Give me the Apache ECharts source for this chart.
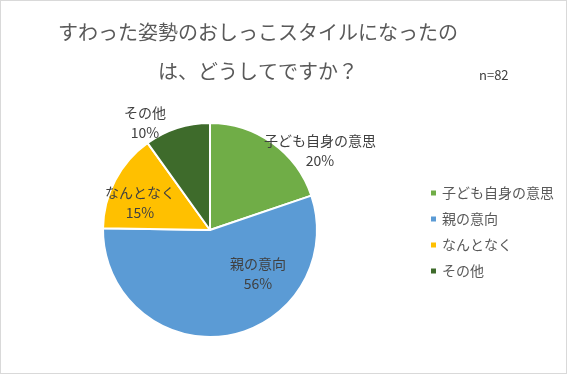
<!DOCTYPE html>
<html>
<head>
<meta charset="utf-8">
<script src="https://cdn.jsdelivr.net/npm/echarts@6/dist/echarts.min.js"></script>
<style>
html,body{margin:0;padding:0;background:#fff;}
#c{width:565px;height:372px;border:1px solid #d9d9d9;}
</style>
</head>
<body>
<div id="c"></div>
<script>
const categories = ['子ども自身の意思', '親の意向', 'なんとなく', 'その他'];
const percents = [20, 56, 15, 10];
const colors = ['#70AD47', '#5B9BD5', '#FFC000', '#3E6B2B'];
const titleLines = ['すわった姿勢のおしっこスタイルになったの', 'は、どうしてですか？'];
const sampleText = 'n=82';

const labelOffsets = [[110, -79], [48, 44], [-70, -27], [-65, -107]];
const font = '"Noto Sans CJK JP", sans-serif';

const chart = echarts.init(document.getElementById('c'));
chart.setOption({
  animation: false,
  title: [
    { text: titleLines.join('\n'), left: 252, top: 7, textAlign: 'center',
      textStyle: { fontFamily: font, fontSize: 20, fontWeight: 'normal', color: '#595959', lineHeight: 39 } },
    { text: sampleText, left: 473, top: 63,
      textStyle: { fontFamily: font, fontSize: 13, fontWeight: 'normal', color: '#404040' } }
  ],
  legend: {
    orient: 'vertical', left: 423, top: 180, itemGap: 12, itemWidth: 7, itemHeight: 7,
    icon: 'rect', data: categories,
    textStyle: { fontFamily: font, fontSize: 14, color: '#595959' }
  },
  series: [{
    type: 'pie',
    center: [209, 229], radius: 107,
    startAngle: 90, clockwise: true,
    itemStyle: { borderColor: '#fff', borderWidth: 2 },
    labelLine: { show: false },
    data: categories.map((n, i) => ({
      name: n, value: percents[i], itemStyle: { color: colors[i] },
      label: { offset: labelOffsets[i] }
    })),
    label: {
      position: 'center', formatter: p => p.name + '\n' + p.value + '%',
      fontFamily: font, fontSize: 14, color: '#404040', lineHeight: 20, align: 'center'
    },
    emphasis: { disabled: true }
  }]
});
</script>
</body>
</html>
